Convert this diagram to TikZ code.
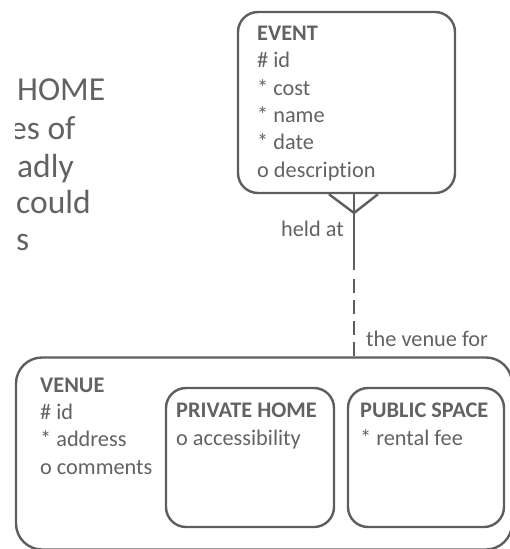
\documentclass[tikz,border=0pt]{standalone}
\usepackage{fontspec}
\setmainfont{Carlito}[Ligatures={NoCommon}]
\definecolor{ln}{HTML}{5E5E5E}
\definecolor{tx}{HTML}{626262}
\tikzset{
  ent/.style={draw=ln, line width=2.4pt, rounded corners=20pt, inner sep=0pt},
  attr/.style={anchor=base west, align=left, inner sep=0pt, text=tx,
    font=\fontsize{22.3}{27.3}\selectfont},
  lbl/.style={inner sep=0pt, text=tx, font=\fontsize{22.3}{26}\selectfont},
  big/.style={anchor=base west, align=left, inner sep=0pt, text=tx,
    font=\fontsize{33.5}{38}\selectfont},
  rel/.style={draw=ln, line width=2.4pt},
}
\begin{document}
\begin{tikzpicture}[x=1pt,y=-1pt]
\useasboundingbox (0,0) rectangle (510,549);
\begin{scope}
\clip (0,0) rectangle (510,549);
% left slide text fragments
\begin{scope}
\clip (15,0) rectangle (230,300);
\node[big] (bg) at (17,100) {HOME};
\node[big] (bg2) at (10,139) {es of};
\node[big] (bg3) at (17,177) {adly};
\node[big] (bg4) at (16,213) {could};
\node[big] (bg5) at (16,250) {s};
\end{scope}
% EVENT
\node[ent, minimum width=217pt, minimum height=181pt] (event) at (346.5,102.5) {};
\node[attr] (eventtxt) at (257,177) {\textbf{EVENT}\\\# id\\* cost\\* name\\* date\\o description};
% VENUE
\node[ent, rounded corners=26pt, minimum width=496pt, minimum height=192pt] (venue) at (264,453.5) {};
\node[attr] (venuetxt) at (40,474) {\textbf{VENUE}\\\# id\\* address\\o comments};
\node[ent, minimum width=168pt, minimum height=139pt] (priv) at (250,457.5) {};
\node[attr] (privtxt) at (176,445) {\textbf{PRIVATE HOME}\\o accessibility};
\node[ent, minimum width=156pt, minimum height=139pt] (pub) at (426,457.5) {};
\node[attr] (pubtxt) at (360,445) {\textbf{PUBLIC SPACE}\\* rental fee};
% relationship
\coordinate (foot) at (354,213);
\coordinate (mid) at (354,270);
\coordinate (dstart) at (354,279);
\draw[rel] (event.south -| 329,0) -- (foot) -- (event.south -| 378,0);
\draw[rel] (event.south -| foot) -- (mid);
\draw[rel, dash pattern=on 14pt off 7pt] (dstart) -- (venue.north -| dstart);
\node[lbl, anchor=east] (held) at (344,229) {held at};
\node[lbl, anchor=west] (venuefor) at (366,339) {the venue for};
\end{scope}
\end{tikzpicture}
\end{document}
